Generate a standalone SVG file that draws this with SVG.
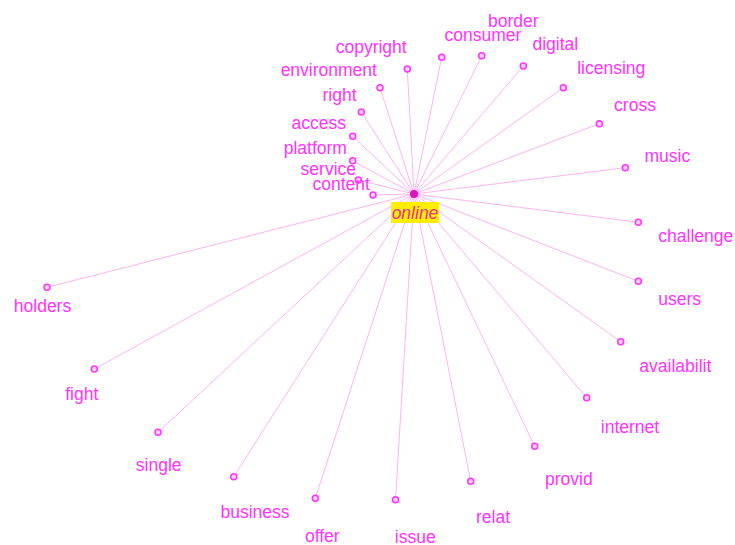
<svg xmlns="http://www.w3.org/2000/svg" width="735" height="545" viewBox="0 0 735 545">
<style>
.bg{fill:#ffffff}
.edge{stroke:#ffb3f2;stroke-width:1;fill:none}
.leaf{fill:#ffd0ff;stroke:#ff33ff;stroke-width:1.5}
.lbl{font-family:"Liberation Sans",Arial,sans-serif;font-size:17.5px;fill:#ff33ff;text-anchor:middle}
.lbl.s{text-anchor:start}
.hub{fill:#e010c0}
.hubbox{fill:#ffee00}
.hublbl{font-family:"Liberation Sans",Arial,sans-serif;font-size:17.5px;font-style:italic;fill:#e8309a;text-anchor:middle}
</style>
<rect class="bg" x="0" y="0" width="735" height="545"/>
<g id="connectors">
<line class="edge" x1="414" y1="194" x2="407.3" y2="69"/>
<line class="edge" x1="414" y1="194" x2="380" y2="87.7"/>
<line class="edge" x1="414" y1="194" x2="361.3" y2="112"/>
<line class="edge" x1="414" y1="194" x2="352.7" y2="136.3"/>
<line class="edge" x1="414" y1="194" x2="352.7" y2="160.7"/>
<line class="edge" x1="414" y1="194" x2="358.3" y2="180"/>
<line class="edge" x1="414" y1="194" x2="373" y2="195"/>
<line class="edge" x1="414" y1="194" x2="441.7" y2="57.3"/>
<line class="edge" x1="414" y1="194" x2="481.7" y2="55.7"/>
<line class="edge" x1="414" y1="194" x2="523.3" y2="66"/>
<line class="edge" x1="414" y1="194" x2="563.3" y2="87.7"/>
<line class="edge" x1="414" y1="194" x2="599.3" y2="123.7"/>
<line class="edge" x1="414" y1="194" x2="625.3" y2="167.7"/>
<line class="edge" x1="414" y1="194" x2="638.3" y2="222.3"/>
<line class="edge" x1="414" y1="194" x2="638.3" y2="281.3"/>
<line class="edge" x1="414" y1="194" x2="620.7" y2="341.7"/>
<line class="edge" x1="414" y1="194" x2="586.7" y2="397.7"/>
<line class="edge" x1="414" y1="194" x2="534.7" y2="446.3"/>
<line class="edge" x1="414" y1="194" x2="470.7" y2="481.3"/>
<line class="edge" x1="414" y1="194" x2="395.5" y2="499.7"/>
<line class="edge" x1="414" y1="194" x2="315.3" y2="498.3"/>
<line class="edge" x1="414" y1="194" x2="233.7" y2="476.7"/>
<line class="edge" x1="414" y1="194" x2="158" y2="432.3"/>
<line class="edge" x1="414" y1="194" x2="94.3" y2="369"/>
<line class="edge" x1="414" y1="194" x2="47" y2="287.3"/>
</g>
<g id="n-copyright"><circle class="leaf" cx="407.3" cy="69" r="3"/><text class="lbl" x="371.2" y="53">copyright</text></g>
<g id="n-environment"><circle class="leaf" cx="380" cy="87.7" r="3"/><text class="lbl" x="328.8" y="76">environment</text></g>
<g id="n-right"><circle class="leaf" cx="361.3" cy="112" r="3"/><text class="lbl" x="339.5" y="101">right</text></g>
<g id="n-access"><circle class="leaf" cx="352.7" cy="136.3" r="3"/><text class="lbl" x="318.8" y="129">access</text></g>
<g id="n-platform"><circle class="leaf" cx="352.7" cy="160.7" r="3"/><text class="lbl" x="315.3" y="154.3">platform</text></g>
<g id="n-service"><circle class="leaf" cx="358.3" cy="180" r="3"/><text class="lbl" x="328.3" y="175">service</text></g>
<g id="n-content"><circle class="leaf" cx="373" cy="195" r="3"/><text class="lbl" x="341.2" y="190">content</text></g>
<g id="n-consumer"><circle class="leaf" cx="441.7" cy="57.3" r="3"/><text class="lbl" x="483" y="41">consumer</text></g>
<g id="n-border"><circle class="leaf" cx="481.7" cy="55.7" r="3"/><text class="lbl" x="513.3" y="26.7">border</text></g>
<g id="n-digital"><circle class="leaf" cx="523.3" cy="66" r="3"/><text class="lbl" x="555.3" y="50">digital</text></g>
<g id="n-licensing"><circle class="leaf" cx="563.3" cy="87.7" r="3"/><text class="lbl" x="611.3" y="74">licensing</text></g>
<g id="n-cross"><circle class="leaf" cx="599.3" cy="123.7" r="3"/><text class="lbl" x="635" y="111">cross</text></g>
<g id="n-music"><circle class="leaf" cx="625.3" cy="167.7" r="3"/><text class="lbl" x="667.3" y="161.7">music</text></g>
<g id="n-challenge"><circle class="leaf" cx="638.3" cy="222.3" r="3"/><text class="lbl s" x="658.3" y="242.3">challenge</text></g>
<g id="n-users"><circle class="leaf" cx="638.3" cy="281.3" r="3"/><text class="lbl" x="679.7" y="305">users</text></g>
<g id="n-availabilit"><circle class="leaf" cx="620.7" cy="341.7" r="3"/><text class="lbl" x="675.3" y="371.7">availabilit</text></g>
<g id="n-internet"><circle class="leaf" cx="586.7" cy="397.7" r="3"/><text class="lbl" x="630" y="432.7">internet</text></g>
<g id="n-provid"><circle class="leaf" cx="534.7" cy="446.3" r="3"/><text class="lbl" x="568.8" y="485">provid</text></g>
<g id="n-relat"><circle class="leaf" cx="470.7" cy="481.3" r="3"/><text class="lbl" x="493" y="523.3">relat</text></g>
<g id="n-issue"><circle class="leaf" cx="395.5" cy="499.7" r="3"/><text class="lbl" x="415.3" y="543.3">issue</text></g>
<g id="n-offer"><circle class="leaf" cx="315.3" cy="498.3" r="3"/><text class="lbl" x="322.3" y="542.3">offer</text></g>
<g id="n-business"><circle class="leaf" cx="233.7" cy="476.7" r="3"/><text class="lbl" x="255" y="518.3">business</text></g>
<g id="n-single"><circle class="leaf" cx="158" cy="432.3" r="3"/><text class="lbl" x="158.7" y="470.7">single</text></g>
<g id="n-fight"><circle class="leaf" cx="94.3" cy="369" r="3"/><text class="lbl" x="81.8" y="400">fight</text></g>
<g id="n-holders"><circle class="leaf" cx="47" cy="287.3" r="3"/><text class="lbl" x="42.5" y="312.3">holders</text></g>
<g id="n-online">
<circle class="hub" cx="414" cy="194" r="4"/>
<rect class="hubbox" x="391" y="202" width="48" height="21"/>
<text class="hublbl" x="415" y="219">online</text>
</g>
</svg>
